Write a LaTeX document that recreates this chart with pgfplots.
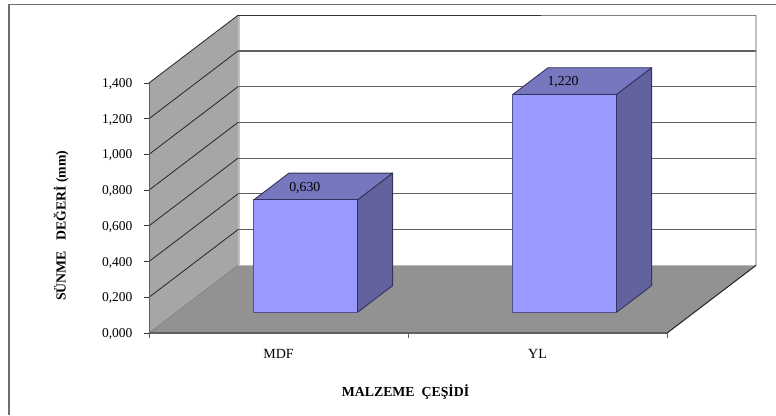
\documentclass[border=0pt]{standalone}
\usepackage{pgfplots}
\pgfplotsset{compat=1.18}
\usepackage{fontspec}
\setmainfont{Liberation Serif}
\definecolor{wallside}{HTML}{A6A6A6}
\definecolor{floorgray}{HTML}{929292}
\definecolor{gridgray}{HTML}{606060}
\definecolor{walledge}{HTML}{C0C0C0}
\definecolor{barfront}{HTML}{9999FF}
\definecolor{bartop}{HTML}{7777C0}
\definecolor{barside}{HTML}{62629F}
\definecolor{baredge}{HTML}{33335F}
\definecolor{framegray}{HTML}{6E6E6E}
% one cuboid: front, top and side faces of a bar
% #1 left x, #2 right x, #3 value
\newcommand{\cuboid}[3]{%
  \addplot3[fill=barside,draw=baredge,line width=0.9pt,line join=round] coordinates {(#2,0.305,0) (#2,0.70,0) (#2,0.70,#3) (#2,0.305,#3)} --cycle;
  \addplot3[fill=bartop,draw=baredge,line width=0.9pt,line join=round] coordinates {(#1,0.305,#3) (#2,0.305,#3) (#2,0.70,#3) (#1,0.70,#3)} --cycle;
  \addplot3[fill=barfront,draw=baredge!70!barfront,line width=0.9pt,line join=round] coordinates {(#1,0.305,0) (#2,0.305,0) (#2,0.305,#3) (#1,0.305,#3)} --cycle;
  \addplot3[draw=baredge,line width=1pt] coordinates {(#2,0.305,0) (#2,0.305,#3) (#1,0.305,#3)};
}
\begin{document}
\begin{tikzpicture}[x=1pt,y=1pt]
\useasboundingbox (0,0) rectangle (776,415);
\fill[white] (0,0) rectangle (776,415);
\draw[framegray,line width=1.2pt] (9,0) -- (9,410.5) -- (776,410.5);
\begin{axis}[
  at={(149pt,82pt)},anchor=origin,
  x={(259pt,0pt)},y={(89pt,67.7pt)},z={(0pt,178.6pt)},
  xmin=0,xmax=2,ymin=0,ymax=1,zmin=0,zmax=1.4,
  clip=false,
  axis lines=left,
  axis line style={-,draw=gridgray,line width=1pt},
  xtick={0,1,2},xticklabels={MDF,YL},x tick label as interval,
  ytick=\empty,
  ztick={0,0.2,0.4,0.6,0.8,1.0,1.2,1.4},
  major tick length=0pt,
  tick label style={font=\fontsize{13.5}{14}\selectfont},
  scaled z ticks=false,
  x tick label style={anchor=center,yshift=-21pt,font=\fontsize{14}{15}\selectfont},
  z tick label style={anchor=east,xshift=-13pt,yshift=-1pt,/pgf/number format/.cd,fixed,fixed zerofill,precision=3,use comma,assume math mode=true},
  xlabel={MALZEME\ \ ÇEŞİDİ},
  zlabel={SÜNME\ \ \ DEĞERİ\ (mm)},
  xlabel style={at={(axis cs:1,0,0)},anchor=center,xshift=-2.5pt,yshift=-59pt,font=\bfseries\fontsize{13.8}{15}\selectfont},
  zlabel style={at={(axis cs:0,0,0.6)},anchor=center,yshift=88pt,font=\bfseries\fontsize{13.8}{15}\selectfont},
]
% walls and floor
\addplot3[fill=white,draw=none] coordinates {(0,1,0) (2,1,0) (2,1,1.4) (0,1,1.4)} --cycle;
\addplot3[fill=wallside,draw=none] coordinates {(0,0,0) (0,1,0) (0,1,1.4) (0,0,1.4)} --cycle;
\addplot3[fill=floorgray,draw=none] coordinates {(0,0,0) (2,0,0) (2,1,0) (0,1,0)} --cycle;
\addplot3[walledge,line width=2.4pt] coordinates {(0.004,1,0) (0.004,1,1.4)};
\addplot3[walledge,line width=1.4pt] coordinates {(2,1,0) (2,1,1.4)};
% gridlines across the side wall and the back wall
\foreach \v in {0.2,0.4,0.6,0.8,1.0,1.2} {
  \edef\temp{\noexpand\addplot3[gridgray,line width=1.1pt] coordinates {(0,1,\v) (2,1,\v)};
  \noexpand\addplot3[black!85,line width=0.8pt] coordinates {(0,0,\v) (0,1,\v)};}
  \temp
}
\addplot3[black!80,line width=0.8pt] coordinates {(0,1,1.4) (1.17,1,1.4)};
\addplot3[gray,line width=0.8pt] coordinates {(1.17,1,1.4) (2,1,1.4)};
\addplot3[black!85,line width=0.8pt] coordinates {(0,0,1.4) (0,1,1.4)};
\addplot3[black!85,line width=0.9pt] coordinates {(2,0,0) (2,1,0)};
\addplot3[gray,line width=0.6pt] coordinates {(0,0,0) (0,1,0)};
% axis lines and outward ticks
\addplot3[gridgray,line width=1pt] coordinates {(0,0,0) (0,0,1.4)};
\addplot3[gridgray,line width=1.1pt] coordinates {(0,0,0) (2,0,0)};
\foreach \v in {0,0.2,0.4,0.6,0.8,1.0,1.2,1.4} {
  \edef\temp{\noexpand\addplot3[black!80,line width=0.9pt] coordinates {(-0.0193,0,\v) (0,0,\v)};}
  \temp
}
\foreach \u in {0,1,2} {
  \edef\temp{\noexpand\addplot3[gridgray,line width=0.9pt] coordinates {(\u,0,-0.028) (\u,0,0)};}
  \temp
}
% bars
\cuboid{0.30}{0.70}{0.63}
\cuboid{1.30}{1.70}{1.22}
\node[font=\fontsize{13.8}{14}\selectfont,yshift=-1pt] at (axis cs:0.43,0.5,0.63) {0,630};
\node[font=\fontsize{13.8}{14}\selectfont,yshift=-1pt] at (axis cs:1.427,0.5,1.22) {1,220};
\end{axis}
\end{tikzpicture}
\end{document}
